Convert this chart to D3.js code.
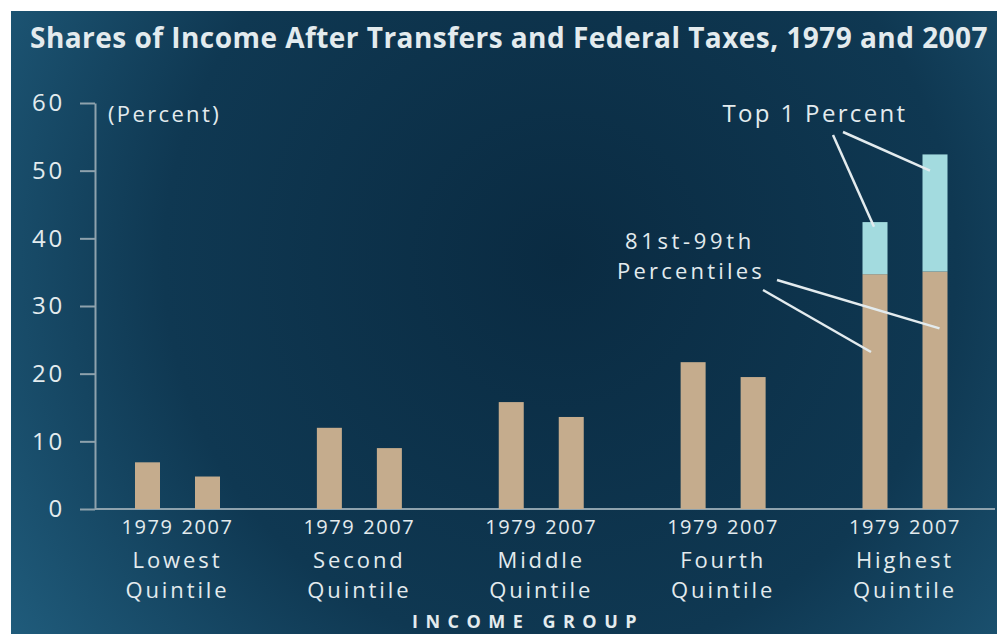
<!DOCTYPE html>
<html>
<head>
<meta charset="utf-8">
<script src="https://cdn.jsdelivr.net/npm/d3@7"></script>
<style>
  body { margin: 0; background: #fff; }
  svg { display: block; }
  text { font-family: "Open Sans", sans-serif; fill: #e3ebee; }
</style>
</head>
<body>
<div id="chart-area"></div>
<script>
// data
var groups = ["Lowest Quintile", "Second Quintile", "Middle Quintile", "Fourth Quintile", "Highest Quintile"];
var years = ["1979", "2007"];
var base1979 = [6.9, 12.0, 15.8, 21.7, 34.7];   // whole quintile, or 81st-99th for the top one
var base2007 = [4.8, 9.0, 13.6, 19.5, 35.1];
var top1979 = [0, 0, 0, 0, 7.7];                 // top 1 percent
var top2007 = [0, 0, 0, 0, 17.3];
var yTicks = [0, 10, 20, 30, 40, 50, 60];

var W = 997, H = 634;

// fit a text to a width by letter spacing
function fit(sel, w) {
  sel.each(function () {
    var t = d3.select(this);
    var n = t.text().length;
    var nat = this.getComputedTextLength();
    t.style("letter-spacing", ((w - nat) / n) + "px");
  });
}

var svg = d3.select("#chart-area").append("svg").attr("width", W).attr("height", H);

var defs = svg.append("defs");
var grad = defs.append("radialGradient").attr("id", "bg")
  .attr("gradientUnits", "userSpaceOnUse")
  .attr("cx", 560).attr("cy", 260).attr("r", 720);
grad.append("stop").attr("offset", 0).attr("stop-color", "#0a2b42");
grad.append("stop").attr("offset", 0.55).attr("stop-color", "#0f3852");
grad.append("stop").attr("offset", 1).attr("stop-color", "#236384");

svg.append("rect").attr("x", 11).attr("y", 11).attr("width", W - 11).attr("height", H - 11)
  .attr("fill", "url(#bg)");

// scales
var x = d3.scalePoint().domain(groups).range([177.5, 905]);
var xYear = d3.scaleBand().domain(years).range([-42.5, 42.5]).paddingInner(0.5833);
var y = d3.scaleLinear().domain([0, 60]).range([509, 103]);

// rows for stacking
var rows = [];
groups.forEach((g, i) => {
  rows.push({group: g, year: "1979", base: base1979[i], top: top1979[i]});
  rows.push({group: g, year: "2007", base: base2007[i], top: top2007[i]});
});
var stack = d3.stack().keys(["base", "top"]);
var series = stack(rows);
var colors = d3.scaleOrdinal().domain(["base", "top"]).range(["#c5ac8d", "#a3dbdf"]);

// title
svg.append("text")
  .attr("x", 30).attr("y", 48)
  .style("font-size", "28px").style("font-weight", "bold")
  .text("Shares of Income After Transfers and Federal Taxes, 1979 and 2007")
  .call(fit, 958);

// y axis
var yAxis = d3.axisLeft(y).tickValues(yTicks).tickSize(15).tickSizeOuter(0).tickPadding(15);
var gy = svg.append("g").attr("transform", "translate(95,0)").call(yAxis);
gy.selectAll("path, line").attr("stroke", "#8ea2ad").attr("stroke-width", 2);
gy.selectAll("text")
  .style("font-size", "24px").style("font-family", "\"Open Sans\", sans-serif")
  .attr("fill", "#e3ebee")
  .each(function () { fit(d3.select(this), this.textContent.length * 16.5); });

svg.append("text").attr("x", 108).attr("y", 122)
  .style("font-size", "22px").text("(Percent)").call(fit, 113);

// x baseline
svg.append("line")
  .attr("x1", 95).attr("x2", 995)
  .attr("y1", y(0)).attr("y2", y(0))
  .attr("stroke", "#8ea2ad").attr("stroke-width", 2);

// bars
svg.selectAll("g.layer").data(series).enter()
  .append("g").attr("class", "layer")
  .attr("fill", (d) => colors(d.key))
  .selectAll("rect").data((d) => d).enter()
  .append("rect")
  .attr("x", (d) => x(d.data.group) + xYear(d.data.year))
  .attr("y", (d) => y(d[1]))
  .attr("width", xYear.bandwidth())
  .attr("height", (d) => y(d[0]) - y(d[1]));

// year labels
rows.forEach((r) => {
  svg.append("text")
    .attr("x", x(r.group) + xYear(r.year) + xYear.bandwidth() / 2)
    .attr("y", 534)
    .attr("text-anchor", "middle")
    .style("font-size", "20px")
    .text(r.year)
    .call(fit, 52);
});

// group labels, two lines in one text
groups.forEach((g) => {
  var parts = g.split(" ");
  var t = svg.append("text").attr("text-anchor", "middle")
    .style("font-size", "22px").style("letter-spacing", "2.9px");
  t.append("tspan").attr("x", x(g)).attr("y", 568).text(parts[0]);
  t.append("tspan").attr("x", x(g)).attr("y", 598).text(parts[1]);
});

svg.append("text").attr("x", 528).attr("y", 628).attr("text-anchor", "middle")
  .style("font-size", "18px").style("font-weight", "bold")
  .text("INCOME GROUP").call(fit, 232);

// annotations
var hi = "Highest Quintile";
var cx79 = x(hi) + xYear("1979") + xYear.bandwidth() / 2;
var cx07 = x(hi) + xYear("2007") + xYear.bandwidth() / 2;

svg.append("text").attr("x", 815).attr("y", 122).attr("text-anchor", "middle")
  .style("font-size", "24px").text("Top 1 Percent").call(fit, 185);
var pctl = svg.append("text").attr("text-anchor", "middle").style("font-size", "22px");
pctl.append("tspan").attr("x", 690).attr("y", 249).text("81st-99th").call(fit, 130);
pctl.append("tspan").attr("x", 691).attr("y", 279).text("Percentiles").call(fit, 148);

var leaders = [
  [833, 135, cx79 - 1, y(41.7)],
  [843, 132, cx07 - 5, y(50)],
  [763, 290, cx79 - 4, y(23.2)],
  [777, 280, cx07 + 4.5, y(26.7)]
];
svg.selectAll("line.leader").data(leaders).enter()
  .append("line").attr("class", "leader")
  .attr("x1", (d) => d[0]).attr("y1", (d) => d[1])
  .attr("x2", (d) => d[2]).attr("y2", (d) => d[3])
  .attr("stroke", "#e3ebee").attr("stroke-width", 2.5);
</script>
</body>
</html>
